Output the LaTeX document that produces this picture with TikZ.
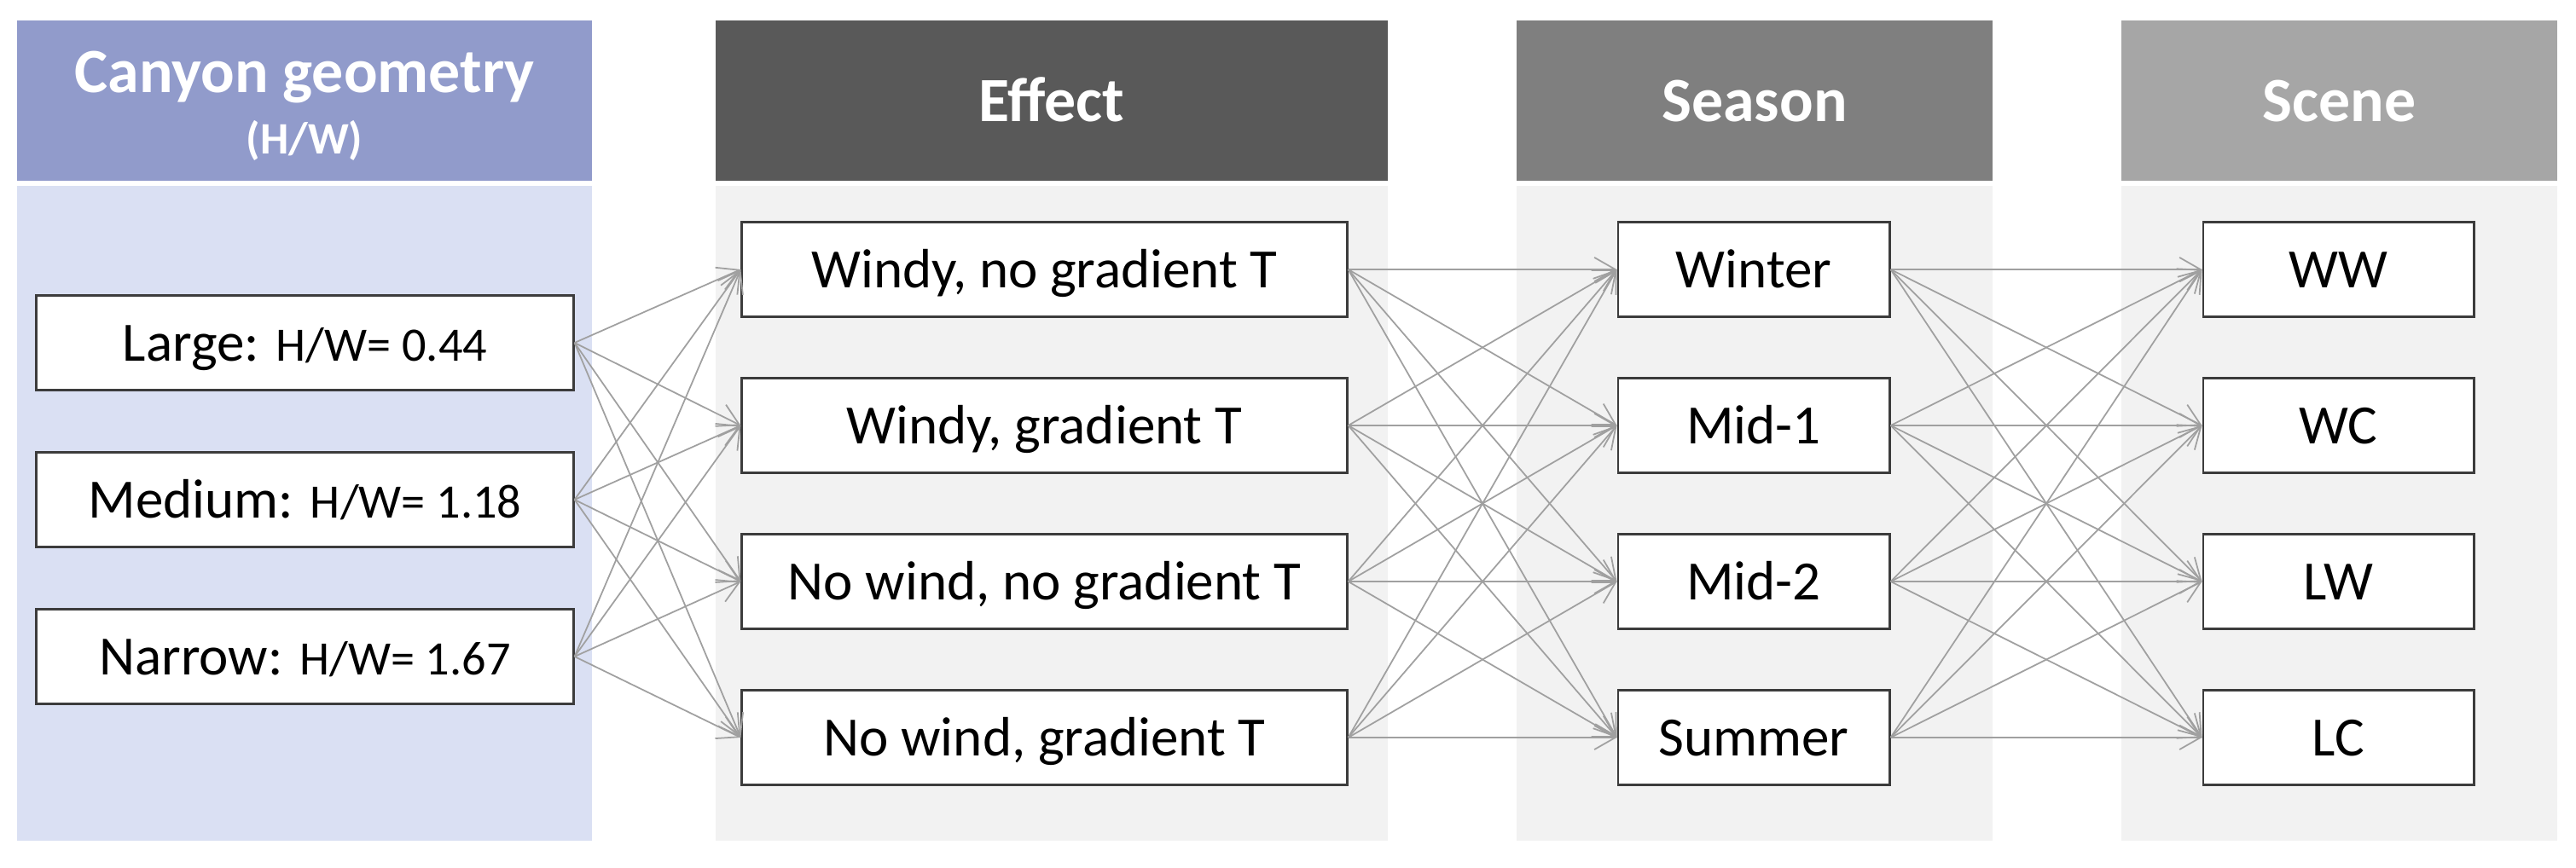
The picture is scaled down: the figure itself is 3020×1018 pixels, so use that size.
\documentclass[tikz,border=0pt]{standalone}
\usepackage{fontspec}
\setmainfont{Carlito}
\usetikzlibrary{arrows.meta}
\definecolor{lavhead}{RGB}{145,155,203}
\definecolor{lavbody}{RGB}{218,224,243}
\definecolor{effhead}{RGB}{89,89,89}
\definecolor{seahead}{RGB}{127,127,127}
\definecolor{scehead}{RGB}{166,166,166}
\definecolor{colbody}{RGB}{242,242,242}
\definecolor{linkgray}{RGB}{160,160,160}
\definecolor{boxline}{RGB}{60,60,60}
\newcommand\hwsz{\fontsize{16}{19}\selectfont}
\begin{document}
\begin{tikzpicture}[x=0.01cm,y=-0.01cm,
  hdr/.style={rectangle, inner sep=0pt, minimum height=1.88cm},
  colbg/.style={rectangle, inner sep=0pt, minimum height=7.68cm},
  item/.style={rectangle, draw=boxline, line width=0.8pt, fill=white, inner sep=0pt,
    minimum height=1.11cm, text height=0.42cm, text depth=0pt, font=\fontsize{18.5}{22}\selectfont},
  hdrtxt/.style={anchor=base, text=white, font=\bfseries\fontsize{21}{24}\selectfont, inner sep=0pt},
  link/.style={draw=linkgray, line width=0.5pt, -{Straight Barb[length=7pt,width=8pt]}}
]
\useasboundingbox (0,0) rectangle (3020,1018);
% column bodies
\node[colbg, fill=lavbody, minimum width=6.74cm] (bodyA) at (357,602) {};
\node[colbg, fill=colbody, minimum width=7.88cm] (bodyB) at (1233,602) {};
\node[colbg, fill=colbody, minimum width=5.58cm] (bodyC) at (2057,602) {};
\node[colbg, fill=colbody, minimum width=5.11cm] (bodyD) at (2742.5,602) {};
% headers
\node[hdr, fill=lavhead, minimum width=6.74cm] (hA) at (357,118) {};
\node[hdr, fill=effhead, minimum width=7.88cm] (hB) at (1233,118) {};
\node[hdr, fill=seahead, minimum width=5.58cm] (hC) at (2057,118) {};
\node[hdr, fill=scehead, minimum width=5.11cm] (hD) at (2742.5,118) {};
\node[hdrtxt] (tA1) at (357,108) {Canyon geometry};
\node[hdrtxt, font=\bfseries\fontsize{15}{18}\selectfont] (tA2) at (357,180) {(H/W)};
\node[hdrtxt] (tB) at (1233,143) {Effect};
\node[hdrtxt] (tC) at (2057,143) {Season};
\node[hdrtxt] (tD) at (2742.5,143) {Scene};
% canyon geometry boxes
\node[item, minimum width=6.29cm] (g1) at (357.5,402) {Large: {\hwsz H/W= 0.44}};
\node[item, minimum width=6.29cm] (g2) at (357.5,586) {Medium: {\hwsz H/W= 1.18}};
\node[item, minimum width=6.29cm] (g3) at (357.5,770) {Narrow: {\hwsz H/W= 1.67}};
% effect boxes
\node[item, minimum width=7.09cm] (e1) at (1224.5,316) {Windy, no gradient T};
\node[item, minimum width=7.09cm] (e2) at (1224.5,499) {Windy, gradient T};
\node[item, minimum width=7.09cm] (e3) at (1224.5,682) {No wind, no gradient T};
\node[item, minimum width=7.09cm] (e4) at (1224.5,865) {No wind, gradient T};
% season boxes
\node[item, minimum width=3.18cm] (s1) at (2056,316) {Winter};
\node[item, minimum width=3.18cm] (s2) at (2056,499) {Mid-1};
\node[item, minimum width=3.18cm] (s3) at (2056,682) {Mid-2};
\node[item, minimum width=3.18cm] (s4) at (2056,865) {Summer};
% scene boxes
\node[item, minimum width=3.17cm] (c1) at (2741.5,316) {WW};
\node[item, minimum width=3.17cm] (c2) at (2741.5,499) {WC};
\node[item, minimum width=3.17cm] (c3) at (2741.5,682) {LW};
\node[item, minimum width=3.17cm] (c4) at (2741.5,865) {LC};
% connectors
\foreach \i in {1,2,3} \foreach \j in {1,2,3,4} \draw[link] (g\i.east) -- (e\j.west);
\foreach \i in {1,2,3,4} \foreach \j in {1,2,3,4} \draw[link] (e\i.east) -- (s\j.west);
\foreach \i in {1,2,3,4} \foreach \j in {1,2,3,4} \draw[link] (s\i.east) -- (c\j.west);
\end{tikzpicture}
\end{document}
